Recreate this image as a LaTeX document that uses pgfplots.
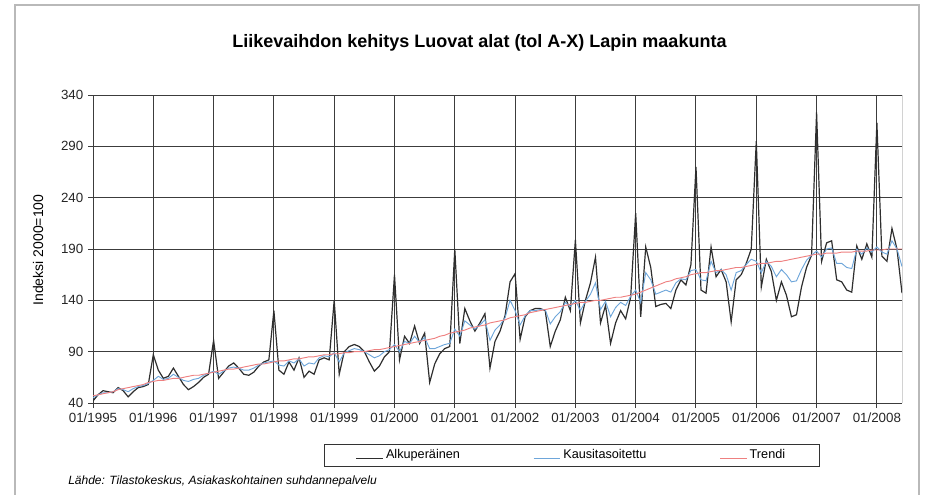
\documentclass[border=0pt]{standalone}
\usepackage{fontspec}
\setmainfont{Liberation Sans}
\usepackage{pgfplots}
\usepackage{pgfplotstable}
\pgfplotsset{compat=1.18}
\definecolor{orig}{HTML}{2E2E2E}
\definecolor{kaus}{HTML}{6EA6DA}
\definecolor{trendc}{HTML}{EE8080}
\definecolor{gridc}{HTML}{3C3C3C}

\pgfplotstableread{
idx orig kaus trend
0 42 45 47
1 48 48 48
2 52 50 49
3 51 50 50
4 50 51 51
5 55 54 53
6 52 53 54
7 46 51 55
8 51 54 56
9 55 56 57
10 56 57 58
11 58 59 60
12 87 62 61
13 72 66 62
14 64 63 62
15 66 64 63
16 74 68 64
17 66 65 64
18 58 62 65
19 53 61 66
20 56 63 67
21 60 64 67
22 65 67 68
23 68 69 69
24 101 71 70
25 64 68 71
26 70 71 72
27 76 74 73
28 79 75 73
29 74 74 74
30 68 72 75
31 67 72 76
32 70 74 77
33 76 77 78
34 80 79 78
35 82 80 79
36 130 81 80
37 72 77 81
38 68 76 81
39 80 81 82
40 72 79 83
41 84 83 83
42 65 76 84
43 71 79 85
44 68 78 85
45 82 84 86
46 84 86 87
47 82 85 87
48 140 89 88
49 68 80 88
50 90 89 89
51 95 91 89
52 97 93 90
53 95 92 90
54 90 90 90
55 80 87 91
56 71 84 92
57 76 86 92
58 85 90 93
59 90 92 94
60 165 97 95
61 82 90 96
62 105 100 97
63 98 98 98
64 115 105 99
65 98 99 100
66 108 104 101
67 60 93 102
68 78 93 103
69 88 95 105
70 93 97 106
71 95 98 108
72 190 112 109
73 98 105 110
74 132 120 111
75 120 116 113
76 110 112 114
77 118 116 115
78 127 121 116
79 74 101 118
80 100 111 119
81 110 116 120
82 125 123 121
83 158 140 123
84 166 130 124
85 102 116 125
86 124 125 126
87 130 130 128
88 132 130 129
89 132 131 130
90 130 131 131
91 95 117 132
92 110 124 133
93 121 129 134
94 143 138 135
95 130 134 136
96 199 140 137
97 118 130 138
98 140 139 138
99 157 146 139
100 182 157 140
101 118 131 140
102 135 139 141
103 98 124 142
104 118 133 143
105 130 138 143
106 122 135 144
107 143 144 145
108 225 150 146
109 124 138 148
110 192 167 150
111 172 160 152
112 134 146 154
113 136 148 156
114 137 150 158
115 132 148 159
116 150 157 161
117 160 161 162
118 155 160 163
119 175 169 165
120 270 170 166
121 150 160 167
122 147 159 167
123 192 178 168
124 163 167 169
125 170 170 169
126 158 165 170
127 119 150 171
128 160 167 172
129 165 169 172
130 176 175 173
131 190 180 174
132 295 178 175
133 153 167 176
134 180 178 176
135 168 173 177
136 140 163 178
137 158 170 178
138 145 165 179
139 124 158 180
140 126 159 181
141 153 170 182
142 172 179 183
143 184 184 184
144 323 188 185
145 178 182 185
146 196 190 186
147 198 191 186
148 160 176 186
149 158 176 187
150 150 172 187
151 148 171 187
152 193 190 188
153 180 185 188
154 195 191 188
155 182 187 189
156 313 192 189
157 183 187 189
158 178 185 190
159 210 198 190
160 190 190 190
161 147 173 190
}\datatable

\begin{document}
\begin{tikzpicture}
\useasboundingbox (0,0) rectangle (693.75pt,370.5pt);
% outer frame
\draw[gray!55, line width=1pt] (11.25pt,-2pt) -- (11.25pt,366.75pt) -- (689.25pt,366.75pt) -- (689.25pt,-2pt);
% title
\node[font=\fontsize{13.5}{16}\selectfont\bfseries] at (359.6pt,338.25pt) {Liikevaihdon kehitys Luovat alat (tol A-X) Lapin maakunta};
% y label
\node[rotate=90, font=\fontsize{10.5}{12}\selectfont] at (28.5pt,183pt) {Indeksi 2000=100};
% source
\node[anchor=west, font=\fontsize{9}{11}\selectfont\itshape, inner sep=0pt] at (51pt,9.75pt) {Lähde: Tilastokeskus, Asiakaskohtainen suhdannepalvelu};
\begin{axis}[
  at={(69.75pt,68.25pt)}, anchor=south west,
  scale only axis, width=606.75pt, height=231pt,
  xmin=0, xmax=161, ymin=40, ymax=340,
  xtick={0,12,...,156},
  xticklabels={01/1995,01/1996,01/1997,01/1998,01/1999,01/2000,01/2001,01/2002,01/2003,01/2004,01/2005,01/2006,01/2007,01/2008},
  ytick={40,90,...,340},
  /pgf/number format/assume math mode=true,
  tick label style={font=\fontsize{10}{12}\selectfont, text=black!85},
  grid=major,
  grid style={gridc, line width=0.75pt},
  tick align=outside,
  major tick length=3.75pt,
  tick style={gridc, line width=0.75pt},
  axis lines*=left,
  axis line style={gridc, line width=0.75pt},
  extra x ticks={161},
  extra x tick labels={},
  extra x tick style={grid style={gray!35, line width=0.7pt}, major tick length=0pt},
  legend columns=3,
  legend style={at={(0.592,-0.170)}, anchor=center, draw=black!80, line width=0.6pt,
    font=\fontsize{9.5}{11}\selectfont, inner xsep=24pt, inner ysep=2pt,
    /tikz/every even column/.append style={column sep=53pt}},
  legend image code/.code={\draw[#1, line width=0.5pt] (0pt,-2.5pt) -- (20pt,-2.5pt);},
]
\addplot[orig, line width=0.9pt] table[x=idx, y=orig] {\datatable};
\addlegendentry{Alkuperäinen}
\addplot[kaus, line width=0.7pt] table[x=idx, y=kaus] {\datatable};
\addlegendentry{Kausitasoitettu}
\addplot[trendc, line width=0.7pt] table[x=idx, y=trend] {\datatable};
\addlegendentry{Trendi}
\end{axis}
\end{tikzpicture}
\end{document}
